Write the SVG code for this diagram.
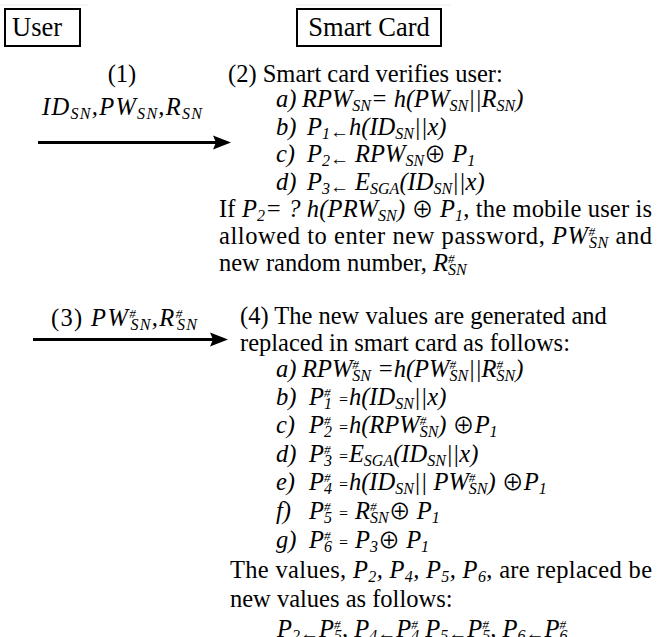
<svg xmlns="http://www.w3.org/2000/svg" width="662" height="637" viewBox="0 0 662 637">
<defs>
<style>
.t{font-family:"Liberation Serif","Times New Roman","DejaVu Serif",serif;font-size:24.5px;fill:#000}
.h{font-size:26.5px}
.i{font-style:italic}
.s{font-size:16px;baseline-shift:-4px}
.u{font-size:13px;baseline-shift:8px}
.a{font-size:19px;baseline-shift:-3px}
.e{font-size:16px}
.o{font-family:"Noto Sans CJK JP","DejaVu Sans",sans-serif;font-style:normal;font-size:22px}
.box{fill:#fff;stroke:#000;stroke-width:2}
.arr{stroke:#000;stroke-width:3;fill:none;marker-end:url(#ah)}
.edge{stroke:#ececec;stroke-width:1}
</style>
<marker id="ah" markerUnits="userSpaceOnUse" markerWidth="20" markerHeight="16" refX="7" refY="8" orient="auto"><path d="M0,1 L18,8 L0,15 L3,8 Z" fill="#000"/></marker>
</defs>
<rect width="662" height="637" fill="#fff"/>
<line class="edge" x1="0" y1="5" x2="88" y2="5"/>
<line class="edge" x1="295" y1="5" x2="451" y2="5"/>

<g id="user"><rect class="box" x="5" y="9" width="75" height="37"/><text class="t h" x="12" y="36">User</text></g>
<g id="smartcard"><rect class="box" x="297" y="9" width="144" height="37"/><text class="t h" x="369" y="36" text-anchor="middle">Smart Card</text></g>

<g id="connectors">
<line class="arr" x1="38" y1="142.5" x2="220" y2="142.5"/>
<line class="arr" x1="33" y1="339.5" x2="217" y2="339.5"/>
</g>

<g id="msg1">
<text class="t" x="122" y="82" text-anchor="middle">(1)</text>
<text class="t i" x="42" y="115" textLength="160" lengthAdjust="spacing">ID<tspan class="s">SN</tspan>,PW<tspan class="s">SN</tspan>,R<tspan class="s">SN</tspan></text>
</g>

<g id="step2">
<text class="t" x="228" y="82">(2) Smart card verifies user:</text>
<text class="t i" x="276" y="107">a)<tspan x="302">RPW<tspan class="s">SN</tspan>= h(PW<tspan class="s">SN</tspan>||R<tspan class="s">SN</tspan>)</tspan></text>
<text class="t i" x="276" y="135">b)<tspan x="307">P<tspan class="s">1</tspan><tspan class="a">←</tspan>h(ID<tspan class="s">SN</tspan>||x)</tspan></text>
<text class="t i" x="276" y="162">c)<tspan x="307">P<tspan class="s">2</tspan><tspan class="a">←</tspan> RPW<tspan class="s">SN</tspan><tspan class="o">⊕</tspan> P<tspan class="s">1</tspan></tspan></text>
<text class="t i" x="276" y="190">d)<tspan x="307">P<tspan class="s">3</tspan><tspan class="a">←</tspan> E<tspan class="s">SGA</tspan>(ID<tspan class="s">SN</tspan>||x)</tspan></text>
<text class="t" x="219" y="217" textLength="433" lengthAdjust="spacing">If <tspan class="i">P<tspan class="s">2</tspan>= ? h(PRW<tspan class="s">SN</tspan>) <tspan class="o">⊕</tspan> P<tspan class="s">1</tspan></tspan>, the mobile user is</text>
<text class="t" x="219" y="244" textLength="433" lengthAdjust="spacing">allowed to enter new password, <tspan class="i">PW<tspan class="u">#</tspan><tspan class="s" dx="-6.5">SN</tspan></tspan> and</text>
<text class="t" x="219" y="271">new random number, <tspan class="i">R<tspan class="u">#</tspan><tspan class="s" dx="-6.5">SN</tspan></tspan></text>
</g>

<g id="msg3">
<text class="t" x="51" y="326" textLength="146" lengthAdjust="spacing">(3) <tspan class="i">PW<tspan class="u">#</tspan><tspan class="s" dx="-6.5">SN</tspan>,R<tspan class="u">#</tspan><tspan class="s" dx="-6.5">SN</tspan></tspan></text>
</g>

<g id="step4">
<text class="t" x="240" y="324">(4) The new values are generated and</text>
<text class="t" x="240" y="351">replaced in smart card as follows:</text>
<text class="t i" x="276" y="377">a)<tspan x="302">RPW<tspan class="u">#</tspan><tspan class="s" dx="-6.5">SN</tspan> =h(PW<tspan class="u">#</tspan><tspan class="s" dx="-6.5">SN</tspan>||R<tspan class="u">#</tspan><tspan class="s" dx="-6.5">SN</tspan>)</tspan></text>
<text class="t i" x="276" y="405">b)<tspan x="309">P<tspan class="u">#</tspan><tspan class="s" dx="-6.5">1</tspan> <tspan class="e">=</tspan>h(ID<tspan class="s">SN</tspan>||x)</tspan></text>
<text class="t i" x="276" y="433">c)<tspan x="309">P<tspan class="u">#</tspan><tspan class="s" dx="-6.5">2</tspan> <tspan class="e">=</tspan>h(RPW<tspan class="u">#</tspan><tspan class="s" dx="-6.5">SN</tspan>) <tspan class="o">⊕</tspan>P<tspan class="s">1</tspan></tspan></text>
<text class="t i" x="276" y="462">d)<tspan x="309">P<tspan class="u">#</tspan><tspan class="s" dx="-6.5">3</tspan> <tspan class="e">=</tspan>E<tspan class="s">SGA</tspan>(ID<tspan class="s">SN</tspan>||x)</tspan></text>
<text class="t i" x="276" y="490">e)<tspan x="309">P<tspan class="u">#</tspan><tspan class="s" dx="-6.5">4</tspan> <tspan class="e">=</tspan>h(ID<tspan class="s">SN</tspan>|| PW<tspan class="u">#</tspan><tspan class="s" dx="-6.5">SN</tspan>) <tspan class="o">⊕</tspan>P<tspan class="s">1</tspan></tspan></text>
<text class="t i" x="276" y="519">f)<tspan x="309">P<tspan class="u">#</tspan><tspan class="s" dx="-6.5">5</tspan> <tspan class="e">=</tspan> R<tspan class="u">#</tspan><tspan class="s" dx="-6.5">SN</tspan><tspan class="o">⊕</tspan> P<tspan class="s">1</tspan></tspan></text>
<text class="t i" x="276" y="548">g)<tspan x="309">P<tspan class="u">#</tspan><tspan class="s" dx="-6.5">6</tspan> <tspan class="e">=</tspan> P<tspan class="s">3</tspan><tspan class="o">⊕</tspan> P<tspan class="s">1</tspan></tspan></text>
<text class="t" x="230" y="578" textLength="422" lengthAdjust="spacing">The values, <tspan class="i">P<tspan class="s">2</tspan>, P<tspan class="s">4</tspan>, P<tspan class="s">5</tspan>, P<tspan class="s">6</tspan></tspan>, are replaced be</text>
<text class="t" x="230" y="607">new values as follows:</text>
<text class="t i" x="277" y="637">P<tspan class="s">2</tspan><tspan class="a">←</tspan>P<tspan class="u">#</tspan><tspan class="s" dx="-6.5">5</tspan>, P<tspan class="s">4</tspan><tspan class="a">←</tspan>P<tspan class="u">#</tspan><tspan class="s" dx="-6.5">4</tspan>  P<tspan class="s">5</tspan><tspan class="a">←</tspan>P<tspan class="u">#</tspan><tspan class="s" dx="-6.5">5</tspan>, P<tspan class="s">6</tspan><tspan class="a">←</tspan>P<tspan class="u">#</tspan><tspan class="s" dx="-6.5">6</tspan></text>
</g>
</svg>
